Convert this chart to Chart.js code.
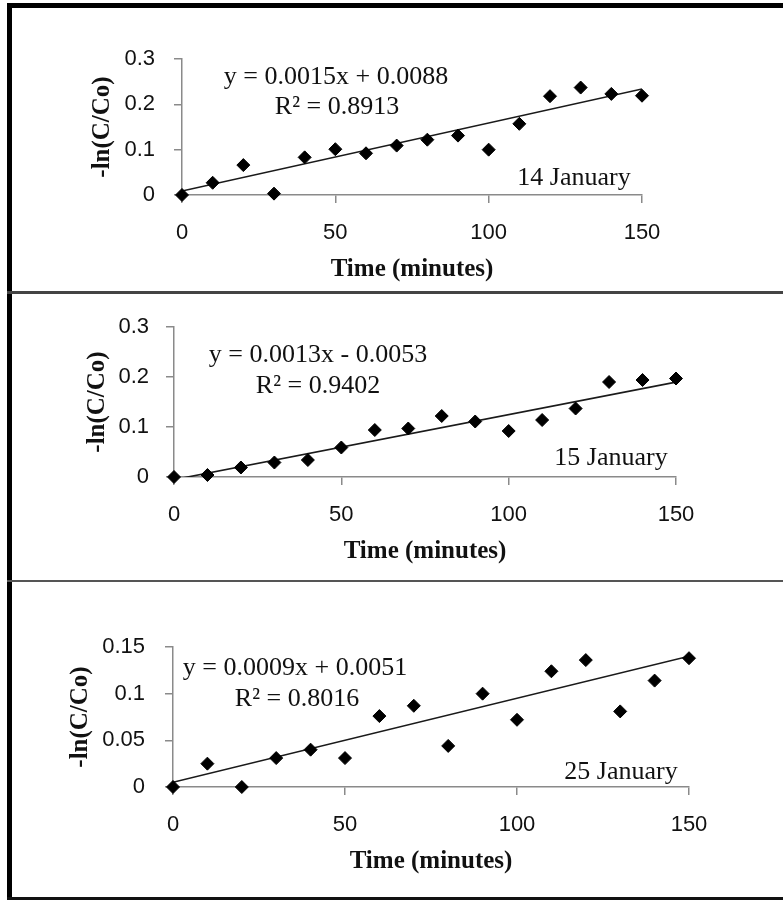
<!DOCTYPE html>
<html><head><meta charset="utf-8">
<script src="https://cdn.jsdelivr.net/npm/chart.js@4"></script>
<style>
html,body{margin:0;padding:0;background:#fff;}
#page{position:relative;width:783px;height:900px;overflow:hidden;background:#fff;}
canvas{position:absolute;left:0;}
.bar{position:absolute;}
</style></head><body>
<div id="page">
<canvas id="c1" width="783" height="292" style="top:0px"></canvas>
<canvas id="c2" width="783" height="288" style="top:292px"></canvas>
<canvas id="c3" width="783" height="320" style="top:580px"></canvas>
<div class="bar" style="left:7px;top:3px;width:776px;height:5px;background:#000"></div>
<div class="bar" style="left:7px;top:3px;width:5px;height:897px;background:#000"></div>
<div class="bar" style="left:7px;top:291px;width:776px;height:3px;background:#444"></div>
<div class="bar" style="left:7px;top:580px;width:776px;height:2px;background:#555"></div>
<div class="bar" style="left:7px;top:897px;width:776px;height:3px;background:#111"></div>
</div>
<script>
// ---- data ----
const timeMin = [0, 10, 20, 30, 40, 50, 60, 70, 80, 90, 100, 110, 120, 130, 140, 150];
const jan14 = [0, 0.027, 0.066, 0.003, 0.083, 0.101, 0.092, 0.109, 0.122, 0.131, 0.100, 0.157, 0.218, 0.237, 0.223, 0.219];
const jan15 = [0, 0.004, 0.019, 0.029, 0.034, 0.059, 0.094, 0.097, 0.122, 0.111, 0.092, 0.114, 0.137, 0.190, 0.194, 0.197];
const jan25 = [0, 0.025, 0, 0.031, 0.040, 0.031, 0.076, 0.087, 0.044, 0.100, 0.072, 0.124, 0.136, 0.081, 0.114, 0.138];
const trendX = [0, 150];
const trend14 = [0.0088, 0.2338];
const trend15 = [-0.0053, 0.1897];
const trend25 = [0.0051, 0.1401];
const xTicks = [0, 50, 100, 150];
const xTickLabels = ['0', '50', '100', '150'];
const yTicksA = [0, 0.1, 0.2, 0.3];
const yTickLabelsA = ['0', '0.1', '0.2', '0.3'];
const yTicksB = [0, 0.05, 0.1, 0.15];
const yTickLabelsB = ['0', '0.05', '0.1', '0.15'];
const xTitle = 'Time (minutes)';
const yTitle = '-ln(C/Co)';
const eqs = ['y = 0.0015x + 0.0088', 'y = 0.0013x - 0.0053', 'y = 0.0009x + 0.0051'];
const r2s = ['R² = 0.8913', 'R² = 0.9402', 'R² = 0.8016'];
const dates = ['14 January', '15 January', '25 January'];

// ---- rendering ----
const AXIS = '#8a8a8a';
const TXT = '#111';
const notePlugin = {
  id: 'notes',
  afterDraw(chart, args, opts) {
    const ctx = chart.ctx;
    ctx.save();
    ctx.font = '26px "Liberation Serif", "Times New Roman", serif';
    ctx.fillStyle = TXT;
    ctx.textBaseline = 'middle';
    ctx.textAlign = 'center';
    (opts.items || []).forEach(n => ctx.fillText(n.text, n.x, n.y));
    ctx.restore();
  }
};

function makePanel(id, values, trendY, yTicks, yLabels, L, notes) {
  const pts = timeMin.map((t, i) => ({x: t, y: values[i]}));
  const tr = trendX.map((t, i) => ({x: t, y: trendY[i]}));
  new Chart(document.getElementById(id), {
    type: 'scatter',
    data: {
      datasets: [
        {data: tr, showLine: true, borderColor: '#1a1a1a', borderWidth: 1.6, pointRadius: 0, clip: 0, order: 2},
        {data: pts, pointStyle: 'rectRot', pointRadius: 6.5, pointBorderWidth: 1,
         backgroundColor: '#000', borderColor: '#000', clip: false, order: 1}
      ]
    },
    options: {
      responsive: false, animation: false,
      layout: {padding: {top: L.top, right: L.right, left: 0, bottom: 0}},
      plugins: {legend: {display: false}, tooltip: {enabled: false}, notes: {items: notes}},
      scales: {
        x: {
          type: 'linear', min: xTicks[0], max: xTicks[xTicks.length - 1],
          afterBuildTicks: s => { s.ticks = xTicks.map(v => ({value: v})); },
          afterFit: s => { s.height = L.xH; },
          grid: {display: true, drawOnChartArea: false, drawTicks: true, tickLength: 8, color: AXIS, lineWidth: 1.5},
          border: {display: true, color: AXIS, width: 1.5},
          ticks: {padding: L.xTickPad, color: TXT, maxRotation: 0,
                  font: {family: '"Liberation Sans", Arial, sans-serif', size: 22},
                  callback: (v, i) => xTickLabels[i]},
          title: {display: true, text: xTitle, color: TXT, padding: {top: 0, bottom: L.xTitlePad},
                  font: {family: '"Liberation Serif", "Times New Roman", serif', size: 25, weight: 'bold'}}
        },
        y: {
          type: 'linear', min: yTicks[0], max: yTicks[yTicks.length - 1],
          afterBuildTicks: s => { s.ticks = yTicks.map(v => ({value: v})); },
          afterFit: s => { s.width = L.yW; },
          grid: {display: true, drawOnChartArea: false, drawTicks: true, tickLength: 8, color: AXIS, lineWidth: 1.5},
          border: {display: true, color: AXIS, width: 1.5},
          ticks: {padding: L.yTickPad, color: TXT,
                  font: {family: '"Liberation Sans", Arial, sans-serif', size: 22},
                  callback: (v, i) => yLabels[i]},
          title: {display: true, text: yTitle, color: TXT, padding: {top: L.yTitlePad, bottom: 0},
                  font: {family: '"Liberation Serif", "Times New Roman", serif', size: 25, weight: 'bold'}}
        }
      }
    },
    plugins: [notePlugin]
  });
}

makePanel('c1', jan14, trend14, yTicksA, yTickLabelsA,
  {top: 59, right: 141, yW: 182, xH: 97, xTickPad: 17, yTickPad: 19, xTitlePad: 7, yTitlePad: 88},
  [{text: eqs[0], x: 336, y: 77}, {text: r2s[0], x: 337, y: 107}, {text: dates[0], x: 574, y: 178}]);
makePanel('c2', jan15, trend15, yTicksA, yTickLabelsA,
  {top: 35, right: 107, yW: 174, xH: 103, xTickPad: 17, yTickPad: 17, xTitlePad: 13, yTitlePad: 83},
  [{text: eqs[1], x: 318, y: 63}, {text: r2s[1], x: 318, y: 94}, {text: dates[1], x: 611, y: 166}]);
makePanel('c3', jan25, trend25, yTicksB, yTickLabelsB,
  {top: 67, right: 94, yW: 173, xH: 113, xTickPad: 17, yTickPad: 20, xTitlePad: 23, yTitlePad: 66},
  [{text: eqs[2], x: 295, y: 88}, {text: r2s[2], x: 297, y: 119}, {text: dates[2], x: 621, y: 192}]);
</script>
</body></html>
